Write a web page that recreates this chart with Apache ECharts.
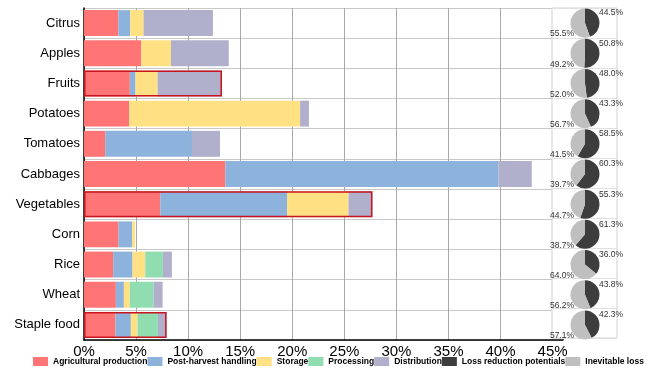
<!DOCTYPE html>
<html><head><meta charset="utf-8">
<script src="https://cdn.jsdelivr.net/npm/echarts@6/dist/echarts.min.js"></script>
<style>html,body{margin:0;padding:0;background:#fff}#c{width:661px;height:371px}</style>
</head><body><div id="c"></div>
<script>
const categories = ['Citrus','Apples','Fruits','Potatoes','Tomatoes','Cabbages','Vegetables','Corn','Rice','Wheat','Staple food'];
const agricultural = [3.29, 5.50, 4.40, 4.35, 2.04, 13.57, 7.32, 3.32, 2.80, 3.06, 3.03];
const postHarvest  = [1.15, 0.00, 0.55, 0.00, 8.33, 26.23, 12.18, 1.31, 1.86, 0.77, 1.47];
const storage      = [1.28, 2.85, 2.12, 16.40, 0.00, 0.00, 5.90, 0.27, 1.22, 0.57, 0.64];
const processing   = [0.00, 0.00, 0.00, 0.00, 0.00, 0.00, 0.00, 0.00, 1.70, 2.28, 1.96];
const distribution = [6.66, 5.55, 6.18, 0.85, 2.69, 3.20, 2.30, 0.00, 0.86, 0.87, 0.83];
const lossReduction = [44.5, 50.8, 48.0, 43.3, 58.5, 60.3, 55.3, 61.3, 36.0, 43.8, 42.3];
const inevitable    = [55.5, 49.2, 52.0, 56.7, 41.5, 39.7, 44.7, 38.7, 64.0, 56.2, 57.1];
const aggregated = ['Fruits','Vegetables','Staple food'];
const stageNames = ['Agricultural production','Post-harvest handling','Storage','Processing','Distribution'];
const stageData = [agricultural, postHarvest, storage, processing, distribution];
const stageColors = ['#FF7474','#8DB3DC','#FFE083','#90DDB2','#B0AFCC'];
const pieNames = ['Loss reduction potentials','Inevitable loss'];
const pieColors = ['#3d3d3d','#bfbfbf'];

const chart = echarts.init(document.getElementById('c'));
const G = {left:84, top:8, right:98, bottom:31};
const rowH = (371 - G.top - G.bottom) / categories.length;
const pieCx = 585;

const series = [];
stageNames.forEach((n, k) => {
  series.push({
    name: n, type: 'bar', stack: 'loss', xAxisIndex: 0, yAxisIndex: 0,
    barCategoryGap: '14%', barGap: '-100%',
    itemStyle: {color: stageColors[k]},
    data: stageData[k], silent: true
  });
});
series.push({
  name: 'aggregate', type: 'bar', xAxisIndex: 0, yAxisIndex: 0,
  barCategoryGap: '14%', barGap: '-100%', z: 3,
  itemStyle: {color: 'rgba(0,0,0,0)', borderColor: '#C8141E', borderWidth: 1.5},
  data: categories.map((c, i) => aggregated.includes(c) ? +(stageData.reduce((s, a) => s + a[i], 0)).toFixed(2) : null),
  silent: true
});
categories.forEach((c, i) => {
  const cy = G.top + (i + 0.5) * rowH;
  series.push({
    type: 'pie', center: [pieCx, cy], radius: 14.5, z: 5, silent: true,
    avoidLabelOverlap: false,
    data: [
      {name: pieNames[0], value: lossReduction[i], itemStyle: {color: pieColors[0]}},
      {name: pieNames[1], value: inevitable[i], itemStyle: {color: pieColors[1]}}
    ],
    label: {show: true, position: 'outside', fontSize: 8.5, color: '#333', fontFamily: 'Liberation Sans, Arial',
      formatter: p => p.value.toFixed(1) + '%'},
    labelLine: {show: false},
    labelLayout: p => p.dataIndex === 0
      ? {x: pieCx + 14, y: cy - 10, align: 'left', verticalAlign: 'middle'}
      : {x: pieCx - 11, y: cy + 11, align: 'right', verticalAlign: 'middle'}
  });
});

chart.setOption({
  animation: false,
  textStyle: {fontFamily: 'Liberation Sans, Arial'},
  grid: [
    {left: G.left, top: G.top, right: G.right, bottom: G.bottom},
    {left: 552, width: 65, top: G.top, bottom: 33, show: true, backgroundColor: '#fff', borderColor: '#d0d0d0', borderWidth: 1, z: 1}
  ],
  xAxis: [
    {gridIndex: 0, type: 'value', min: 0, max: 46, interval: 5,
      axisLine: {show: true, lineStyle: {color: '#000', width: 1.5}},
      axisTick: {show: false},
      axisLabel: {fontSize: 15, color: '#000', margin: 4, formatter: v => (v % 5 === 0 ? v + '%' : '')},
      splitLine: {show: true, lineStyle: {color: '#a8a8a8', width: 1}}},
    {gridIndex: 1, type: 'value', show: false}
  ],
  yAxis: [
    {gridIndex: 0, type: 'category', data: categories, inverse: true,
      axisLine: {show: true, lineStyle: {color: '#000', width: 1.5}},
      axisTick: {show: false},
      axisLabel: {fontSize: 13, color: '#000', margin: 4},
      splitLine: {show: true, lineStyle: {color: '#c8c8c8'}}},
    {gridIndex: 1, type: 'category', data: categories, inverse: true, z: 2,
      axisLine: {show: false}, axisTick: {show: false}, axisLabel: {show: false},
      splitLine: {show: true, lineStyle: {color: '#e0e0e0'}}}
  ],
  legend: {
    left: 33, top: 357, padding: 0, itemWidth: 15, itemHeight: 9, itemGap: 0, icon: 'rect',
    data: stageNames.concat(pieNames),
    textStyle: {fontSize: 8.5, fontWeight: 'bold', color: '#000'},
    selectedMode: false
  },
  series: series
});
</script></body></html>
